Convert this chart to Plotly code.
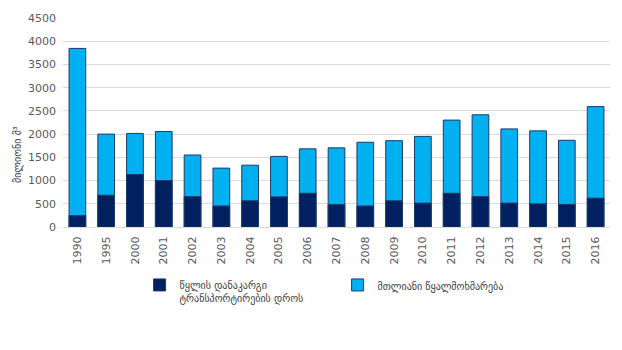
import plotly.graph_objects as go

years = ["1990", "1995", "2000", "2001", "2002", "2003", "2004", "2005", "2006", "2007",
         "2008", "2009", "2010", "2011", "2012", "2013", "2014", "2015", "2016"]
loss = [247, 684, 1128, 1001, 655, 452, 564, 648, 726, 486,
        452, 564, 515, 726, 655, 515, 500, 486, 621]
total = [3845, 2000, 2015, 2057, 1550, 1268, 1331, 1521, 1683, 1704,
         1825, 1859, 1951, 2302, 2416, 2112, 2070, 1867, 2592]
y_ticks = [0, 500, 1000, 1500, 2000, 2500, 3000, 3500, 4000, 4500]

name_loss = "წყლის დანაკარგი<br>ტრანსპორტირების დროს"
name_total = "მთლიანი წყალმოხმარება"

FONT = "DejaVu Sans, Noto Sans, sans-serif"

fig = go.Figure()
fig.add_trace(go.Bar(
    x=years, y=total, name=name_total, legendrank=2,
    marker=dict(color="#00B0F0", line=dict(color="#1F3A68", width=1)),
))
fig.add_trace(go.Bar(
    x=years, y=loss, name=name_loss, legendrank=1,
    marker=dict(color="#002060", line=dict(color="#1F3A68", width=1)),
))

fig.update_layout(
    width=622, height=350,
    margin=dict(l=63, r=12, t=15, b=123),
    barmode="overlay", bargap=0.42,
    plot_bgcolor="white", paper_bgcolor="white",
    font=dict(family=FONT, color="#595959", size=11),
    showlegend=True,
    legend=dict(orientation="h", x=0.14, y=-0.215, xanchor="left", yanchor="top",
                font=dict(size=10, color="#404040"), entrywidth=153,
                itemwidth=30, traceorder="normal", valign="top"),
    annotations=[dict(text="მილიონი მ³", x=(18 - 63) / 547, xref="paper",
                      y=(227 - 154) / 212, yref="paper", xanchor="center", yanchor="middle",
                      showarrow=False, textangle=-90, font=dict(size=10, color="#404040"))],
)

fig.update_yaxes(range=[0, 4500], tickvals=y_ticks, showgrid=True, gridcolor="#D9D9D9",
                 gridwidth=1, zeroline=False, ticks="", ticklen=0, ticklabelstandoff=6,
                 tickfont=dict(size=11, color="#595959"))
fig.update_xaxes(type="category", tickangle=-90, showline=True, linecolor="#D9D9D9",
                 ticks="", ticklabelstandoff=4, tickfont=dict(size=11, color="#595959"))

fig.write_html("out.html")
